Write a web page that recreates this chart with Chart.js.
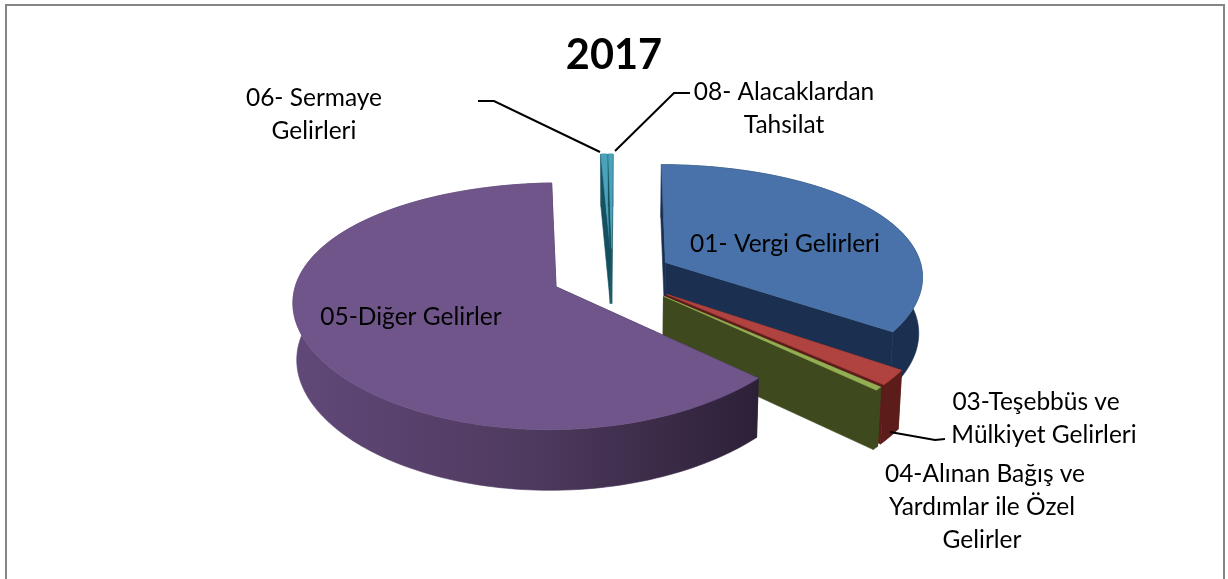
<!DOCTYPE html>
<html>
<head>
<meta charset="utf-8">
<title>2017</title>
<script src="https://cdn.jsdelivr.net/npm/chart.js@4"></script>
<style>
  html, body { margin: 0; padding: 0; background: #fff; overflow: hidden; }
  #wrap { position: relative; width: 1228px; height: 579px; }
  #frame { position: absolute; left: 5px; top: 4px; width: 1216px; height: 600px; border: 2px solid #868686; }
  #pie { position: absolute; left: 0; top: 0; }
</style>
</head>
<body>
<div id="wrap">
  <div id="frame"></div>
  <canvas id="pie" width="1228" height="579"></canvas>
</div>
<script>
'use strict';
const categories = ['01- Vergi Gelirleri', '03-Teşebbüs ve Mülkiyet Gelirleri', '04-Alınan Bağış ve Yardımlar ile Özel Gelirler', '05-Diğer Gelirler', '06- Sermaye Gelirleri', '08- Alacaklardan Tahsilat'];
const shares = [34.44, 1.94, 0.42, 62.44, 0.44, 0.32];
const explode = [61, 68, 68, 61, 61, 61];

const topColors = ['#4872a9', '#b0433f', '#93ae53', '#6f558a', '#4aa3bb', '#4aa3bb'];
const wallColors = ['#1b3050', '#5c1c1a', '#3e4a1e', '#2e2139', '#14505f', '#14505f'];
const purpleWall = ['#604878', '#4f3a5f', '#2c2037'];

// back to front, purple has to sit on top of the green wall
const drawOrder = [4, 5, 0, 1, 2, 3];

const titleText = '2017';
const labelFont = '24.5px Lato';

// text, centre x, middle y
const labelLines = [
  ['06- Sermaye', 314, 98],
  ['Gelirleri', 314, 131],
  ['08- Alacaklardan', 784, 92],
  ['Tahsilat', 784, 125],
  ['01- Vergi Gelirleri', 785, 244],
  ['05-Diğer Gelirler', 411, 317],
  ['03-Teşebbüs ve', 1036, 402],
  ['Mülkiyet Gelirleri', 1044, 435],
  ['04-Alınan Bağış ve', 985, 474],
  ['Yardımlar ile Özel', 982, 507],
  ['Gelirler', 982, 540]
];

const leaderLines = [
  [[478, 101], [494, 101], [600, 152]],
  [[690, 93], [674, 93], [615, 151]],
  [[890, 432], [935, 440], [945, 439]]
];

// projection of the flat pie into the tilted view
const centerX = 612;
const centerY = 275;
const pieRadius = 258;
const tilt = 0.452;
const persp = 0.000604;
const perspX = 0.00042;
const wallHeight = 56;
const wallNarrowing = 0.012;

function project(x, y, down) {
  const s = 1 / (1 + persp * y);
  const sx = 1 / (1 + perspX * y);
  return [
    centerX + x * sx * (1 - wallNarrowing * down),
    centerY - y * tilt * s + down * wallHeight * (1 + (s - 1) * 0.4)
  ];
}

function fillPoly(ctx, pts, color) {
  ctx.beginPath();
  pts.forEach(function(p, i) {
    if (i === 0) ctx.moveTo(p[0], p[1]);
    else ctx.lineTo(p[0], p[1]);
  });
  ctx.closePath();
  ctx.fillStyle = color;
  ctx.fill();
  // same colour stroke closes the hairlines between polygons
  ctx.strokeStyle = color;
  ctx.lineWidth = 0.6;
  ctx.stroke();
}

function drawSlice(ctx, arc, i) {
  const start = arc.startAngle;
  const end = arc.endAngle;
  const mid = (start + end) / 2;
  const ox = arc.options.offset * Math.cos(mid);
  const oy = -arc.options.offset * Math.sin(mid);
  const steps = Math.max(2, Math.ceil((end - start) * 40));

  const rim = [];
  for (let n = 0; n <= steps; n++) {
    const a = start + (end - start) * n / steps;
    rim.push([ox + pieRadius * Math.cos(a), oy - pieRadius * Math.sin(a)]);
  }
  const first = rim[0];
  const last = rim[rim.length - 1];

  let wall = wallColors[i];
  // radial walls
  fillPoly(ctx, [project(ox, oy, 0), project(first[0], first[1], 0), project(first[0], first[1], 1), project(ox, oy, 1)], wall);
  fillPoly(ctx, [project(ox, oy, 0), project(last[0], last[1], 0), project(last[0], last[1], 1), project(ox, oy, 1)], wall);

  // outer wall
  if (i === 3) {
    wall = ctx.createLinearGradient(296, 0, 760, 0);
    purpleWall.forEach(function(c, n) {
      wall.addColorStop(n / (purpleWall.length - 1), c);
    });
  }
  const outer = rim.map(function(p) { return project(p[0], p[1], 0); });
  const outerLow = rim.map(function(p) { return project(p[0], p[1], 1); }).reverse();
  fillPoly(ctx, outer.concat(outerLow), wall);

  // top face
  fillPoly(ctx, [project(ox, oy, 0)].concat(outer), topColors[i]);
}

// the arcs keep their angles and offsets from Chart.js, this only changes how they are painted
const pie3d = {
  id: 'pie3d',
  beforeDatasetDraw: function(chart, args) {
    const ctx = chart.ctx;
    const arcs = args.meta.data;
    ctx.save();
    drawOrder.forEach(function(i) {
      drawSlice(ctx, arcs[i], i);
    });
    ctx.restore();
    return false;
  }
};

const sliceLabels = {
  id: 'sliceLabels',
  afterDraw: function(chart) {
    const ctx = chart.ctx;
    ctx.save();
    ctx.strokeStyle = '#000';
    ctx.lineWidth = 2;
    leaderLines.forEach(function(line) {
      ctx.beginPath();
      line.forEach(function(p, i) {
        if (i === 0) ctx.moveTo(p[0], p[1]);
        else ctx.lineTo(p[0], p[1]);
      });
      ctx.stroke();
    });
    ctx.fillStyle = '#000';
    ctx.font = labelFont;
    ctx.textAlign = 'center';
    ctx.textBaseline = 'middle';
    labelLines.forEach(function(l) {
      ctx.fillText(l[0], l[1], l[2]);
    });
    ctx.restore();
  }
};

const chart = new Chart(document.getElementById('pie').getContext('2d'), {
  type: 'pie',
  data: {
    labels: categories,
    datasets: [{
      data: shares,
      backgroundColor: topColors,
      offset: explode,
      borderWidth: 0
    }]
  },
  options: {
    responsive: false,
    animation: false,
    rotation: 0.3,
    plugins: {
      legend: { display: false },
      tooltip: { enabled: false },
      title: {
        display: true,
        text: titleText,
        color: '#000',
        font: { family: 'Lato', size: 41.5, weight: 'bold' },
        padding: { top: 31, bottom: 10 }
      }
    }
  },
  plugins: [pie3d, sliceLabels]
});
</script>
</body>
</html>
